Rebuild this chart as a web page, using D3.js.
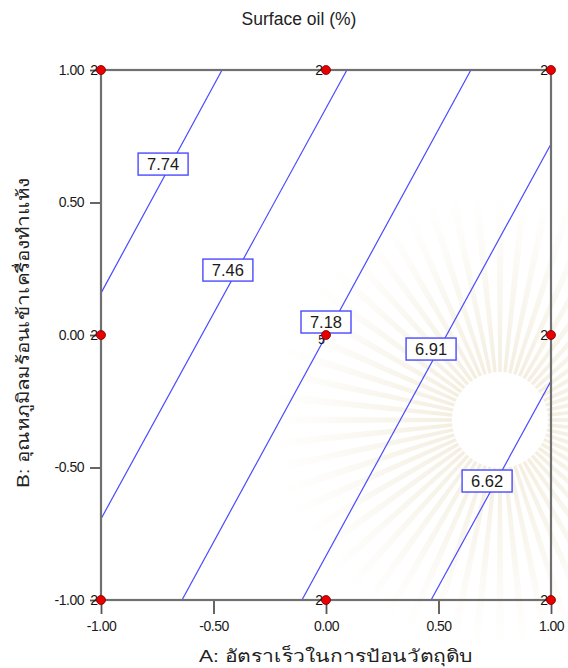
<!DOCTYPE html>
<html>
<head>
<meta charset="utf-8">
<script src="https://cdn.jsdelivr.net/npm/d3@7"></script>
<style>
  html, body { margin: 0; padding: 0; background: #fff; }
  svg { display: block; font-family: "Liberation Sans", Arial, sans-serif; }
</style>
</head>
<body>
<svg id="chart" width="568" height="668"></svg>
<script>
// Contour levels of surface oil (%) and the end points of each straight contour (coded units)
const levels  = [7.74, 7.46, 7.18, 6.91, 6.62];
const startA  = [-1.00, -1.00, -0.64, -0.107, 0.467];
const startB  = [0.158, -0.694, -1.00, -1.00, -1.00];
const endA    = [-0.462, 0.093, 0.644, 1.00, 1.00];
const endB    = [1.00, 1.00, 1.00, 0.721, -0.174];
// Where each level label sits along its contour
const labelA  = [-0.724, -0.436, 0.000, 0.467, 0.716];
const labelB  = [0.645, 0.245, 0.049, -0.053, -0.551];

// Design points and their replicate counts
const designA = [-1, -1, -1, 0, 0, 0, 1, 1, 1];
const designB = [-1, 0, 1, -1, 0, 1, -1, 0, 1];
const designN = [2, 2, 2, 2, 5, 2, 2, 2, 2];

const tickValues = [-1, -0.5, 0, 0.5, 1];
const titleText = "Surface oil (%)";
const xTitle = "A: อัตราเร็วในการป้อนวัตถุดิบ";
const yTitle = "B: อุณหภูมิลมร้อนเข้าเครื่องทำแห้ง";

const fmt = v => d3.format(".2f")(v).replace("\u2212", "-");

const svg = d3.select("#chart");
const plot = { left: 101, right: 551, top: 70, bottom: 600 };

const x = d3.scaleLinear().domain([-1, 1]).range([plot.left, plot.right]);
const y = d3.scaleLinear().domain([-1, 1]).range([plot.bottom, plot.top]);

// faint background emblem of rays
const defs = svg.append("defs");
const grad = defs.append("radialGradient").attr("id", "rayfade")
  .attr("gradientUnits", "userSpaceOnUse")
  .attr("cx", 0).attr("cy", 0).attr("r", 230);
grad.append("stop").attr("offset", "0.2").attr("stop-color", "#efe7d2").attr("stop-opacity", 0.7);
grad.append("stop").attr("offset", "0.6").attr("stop-color", "#f2ecdc").attr("stop-opacity", 0.4);
grad.append("stop").attr("offset", "1").attr("stop-color", "#f6f2e6").attr("stop-opacity", 0);

const emblem = svg.append("g").attr("transform", "translate(500,420)");
const rays = d3.range(0, 360, 6);
emblem.selectAll("path").data(rays).join("path")
  .attr("d", a => {
    const r0 = 48, r1 = 230, w = 2.0;
    const p = d3.path();
    const t = a * Math.PI / 180;
    const dt = w * Math.PI / 180;
    p.moveTo(r0 * Math.cos(t - dt), r0 * Math.sin(t - dt));
    p.lineTo(r1 * Math.cos(t - dt * 0.5), r1 * Math.sin(t - dt * 0.5));
    p.lineTo(r1 * Math.cos(t + dt * 0.5), r1 * Math.sin(t + dt * 0.5));
    p.lineTo(r0 * Math.cos(t + dt), r0 * Math.sin(t + dt));
    p.closePath();
    return p.toString();
  })
  .attr("fill", "url(#rayfade)");

// title
svg.append("text")
  .attr("x", 299).attr("y", 25)
  .attr("text-anchor", "middle")
  .attr("font-size", 17.5).attr("fill", "#222")
  .text(titleText);

// contour lines
svg.append("clipPath").attr("id", "plotclip")
  .append("rect")
  .attr("x", plot.left).attr("y", plot.top)
  .attr("width", plot.right - plot.left).attr("height", plot.bottom - plot.top);

const contours = svg.append("g").attr("clip-path", "url(#plotclip)");
contours.selectAll("line").data(levels).join("line")
  .attr("x1", (d, i) => x(startA[i])).attr("y1", (d, i) => y(startB[i]))
  .attr("x2", (d, i) => x(endA[i])).attr("y2", (d, i) => y(endB[i]))
  .attr("stroke", "#4a4aff").attr("stroke-width", 1.2);

// axes
const xAxis = d3.axisBottom(x).tickValues(tickValues).tickFormat(fmt).tickSize(14).tickPadding(7);
const yAxis = d3.axisLeft(y).tickValues(tickValues).tickFormat(fmt).tickSize(11).tickPadding(6);

const gx = svg.append("g").attr("transform", `translate(0,${plot.bottom})`).call(xAxis);
const gy = svg.append("g").attr("transform", `translate(${plot.left},0)`).call(yAxis);
[gx, gy].forEach(g => {
  g.select(".domain").remove();
  g.selectAll(".tick line").attr("stroke", "#555").attr("stroke-width", 1.8);
  g.selectAll(".tick text").attr("font-size", 14).attr("fill", "#1a1a1a")
    .attr("font-family", "'Liberation Sans', Arial, sans-serif").attr("letter-spacing", -0.5);
});

// frame
svg.append("rect")
  .attr("x", plot.left).attr("y", plot.top)
  .attr("width", plot.right - plot.left).attr("height", plot.bottom - plot.top)
  .attr("fill", "none").attr("stroke", "#707070").attr("stroke-width", 2.2);

// replicate counts beside the design points
const counts = svg.append("g");
designA.forEach((a, i) => {
  if (designN[i] < 2) return;
  const px = x(a), py = y(designB[i]);
  const centre = a === 0 && designB[i] === 0;
  counts.append("text")
    .attr("x", centre ? px - 1 : px - 3)
    .attr("y", centre ? py + 9 : py + 5)
    .attr("text-anchor", "end")
    .attr("font-size", centre ? 12 : 14).attr("fill", "#111")
    .text(designN[i]);
});

// level labels
const lbl = svg.append("g");
levels.forEach((lv, i) => {
  const cx = x(labelA[i]), cy = y(labelB[i]);
  lbl.append("rect")
    .attr("x", cx - 25).attr("y", cy - 11)
    .attr("width", 50).attr("height", 22)
    .attr("fill", "#fff").attr("stroke", "#4a4aff").attr("stroke-width", 1.4);
  lbl.append("text")
    .attr("x", cx).attr("y", cy + 6)
    .attr("text-anchor", "middle")
    .attr("font-size", 16.5).attr("fill", "#1a1a1a")
    .text(fmt(lv));
});

// design points
svg.append("g").selectAll("circle")
  .data(designA.map((a, i) => [a, designB[i]]))
  .join("circle")
  .attr("cx", d => x(d[0])).attr("cy", d => y(d[1])).attr("r", 4.5)
  .attr("fill", "#e60000").attr("stroke", "#7a0000").attr("stroke-width", 0.8);

// axis titles
svg.append("text")
  .attr("x", 336).attr("y", 662)
  .attr("text-anchor", "middle")
  .attr("textLength", 274).attr("lengthAdjust", "spacingAndGlyphs")
  .attr("font-size", 17).attr("fill", "#222")
  .text(xTitle);

svg.append("text")
  .attr("transform", "translate(29,333) rotate(-90)")
  .attr("text-anchor", "middle")
  .attr("textLength", 310).attr("lengthAdjust", "spacingAndGlyphs")
  .attr("font-size", 17).attr("fill", "#222")
  .text(yTitle);
</script>
</body>
</html>
